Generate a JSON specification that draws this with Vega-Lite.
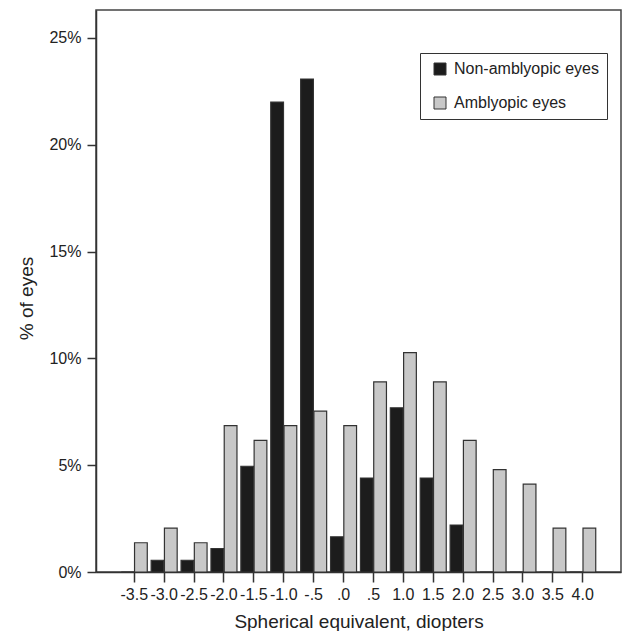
{
  "$schema": "https://vega.github.io/schema/vega-lite/v6.json",
  "width": 525,
  "height": 562,
  "autosize": {"type": "none"},
  "padding": {"left": 96, "top": 10, "right": 1, "bottom": 59},
  "background": "white",
  "config": {
    "view": {"stroke": "#444", "strokeWidth": 1.5},
    "font": "Liberation Sans",
    "axis": {"domainColor": "#333", "domainWidth": 1.5, "tickColor": "#333", "tickWidth": 1.5, "labelColor": "#222", "titleColor": "#222", "grid": false, "labelFont": "Liberation Sans", "titleFont": "Liberation Sans", "titleFontWeight": "normal"}
  },
  "data": {
    "values": [
      {"sph": "-3.5", "group": "Non-amblyopic eyes", "pct": 0},
      {"sph": "-3.0", "group": "Non-amblyopic eyes", "pct": 0.55},
      {"sph": "-2.5", "group": "Non-amblyopic eyes", "pct": 0.55},
      {"sph": "-2.0", "group": "Non-amblyopic eyes", "pct": 1.1},
      {"sph": "-1.5", "group": "Non-amblyopic eyes", "pct": 4.95},
      {"sph": "-1.0", "group": "Non-amblyopic eyes", "pct": 22.0},
      {"sph": "-.5", "group": "Non-amblyopic eyes", "pct": 23.08},
      {"sph": ".0", "group": "Non-amblyopic eyes", "pct": 1.65},
      {"sph": ".5", "group": "Non-amblyopic eyes", "pct": 4.4},
      {"sph": "1.0", "group": "Non-amblyopic eyes", "pct": 7.69},
      {"sph": "1.5", "group": "Non-amblyopic eyes", "pct": 4.4},
      {"sph": "2.0", "group": "Non-amblyopic eyes", "pct": 2.2},
      {"sph": "2.5", "group": "Non-amblyopic eyes", "pct": 0},
      {"sph": "3.0", "group": "Non-amblyopic eyes", "pct": 0},
      {"sph": "3.5", "group": "Non-amblyopic eyes", "pct": 0},
      {"sph": "4.0", "group": "Non-amblyopic eyes", "pct": 0},
      {"sph": "-3.5", "group": "Amblyopic eyes", "pct": 1.37},
      {"sph": "-3.0", "group": "Amblyopic eyes", "pct": 2.05},
      {"sph": "-2.5", "group": "Amblyopic eyes", "pct": 1.37},
      {"sph": "-2.0", "group": "Amblyopic eyes", "pct": 6.85},
      {"sph": "-1.5", "group": "Amblyopic eyes", "pct": 6.16},
      {"sph": "-1.0", "group": "Amblyopic eyes", "pct": 6.85},
      {"sph": "-.5", "group": "Amblyopic eyes", "pct": 7.53},
      {"sph": ".0", "group": "Amblyopic eyes", "pct": 6.85},
      {"sph": ".5", "group": "Amblyopic eyes", "pct": 8.9},
      {"sph": "1.0", "group": "Amblyopic eyes", "pct": 10.27},
      {"sph": "1.5", "group": "Amblyopic eyes", "pct": 8.9},
      {"sph": "2.0", "group": "Amblyopic eyes", "pct": 6.16},
      {"sph": "2.5", "group": "Amblyopic eyes", "pct": 4.79},
      {"sph": "3.0", "group": "Amblyopic eyes", "pct": 4.11},
      {"sph": "3.5", "group": "Amblyopic eyes", "pct": 2.05},
      {"sph": "4.0", "group": "Amblyopic eyes", "pct": 2.05}
    ]
  },
  "mark": {"type": "bar", "stroke": "#333", "strokeWidth": 1.2},
  "encoding": {
    "x": {
      "field": "sph",
      "type": "ordinal",
      "sort": ["-3.5", "-3.0", "-2.5", "-2.0", "-1.5", "-1.0", "-.5", ".0", ".5", "1.0", "1.5", "2.0", "2.5", "3.0", "3.5", "4.0"],
      "scale": {"paddingInner": 0.13, "paddingOuter": 0.845},
      "axis": {"title": "Spherical equivalent, diopters", "labelAngle": 0, "labelFontSize": 16, "titleFontSize": 19, "tickSize": 10, "labelPadding": 4, "titleY": 55, "titleBaseline": "alphabetic", "domain": true}
    },
    "xOffset": {
      "field": "group",
      "type": "nominal",
      "sort": ["Non-amblyopic eyes", "Amblyopic eyes"],
      "scale": {"paddingInner": 0.04, "paddingOuter": 0}
    },
    "y": {
      "field": "pct",
      "type": "quantitative",
      "scale": {"domain": [0, 26.31], "nice": false},
      "axis": {"title": "% of eyes", "values": [0, 5, 10, 15, 20, 25], "labelExpr": "datum.value + '%'", "labelFontSize": 16, "titleFontSize": 19, "tickSize": 9, "labelPadding": 6, "titleX": -64, "titleY": 288, "titleBaseline": "alphabetic", "titleAngle": 270}
    },
    "fill": {
      "field": "group",
      "type": "nominal",
      "sort": ["Non-amblyopic eyes", "Amblyopic eyes"],
      "scale": {"domain": ["Non-amblyopic eyes", "Amblyopic eyes"], "range": ["#1c1c1c", "#c8c8c8"]},
      "legend": {
        "title": null,
        "orient": "none",
        "legendX": 324,
        "legendY": 43,
        "strokeColor": "#333",
        "fillColor": "white",
        "padding": 8,
        "symbolType": "square",
        "symbolSize": 144,
        "symbolStrokeColor": "#333",
        "symbolStrokeWidth": 1,
        "symbolOffset": 4,
        "labelFontSize": 16,
        "labelColor": "#222",
        "labelOffset": 6,
        "rowPadding": 18
      }
    }
  }
}
